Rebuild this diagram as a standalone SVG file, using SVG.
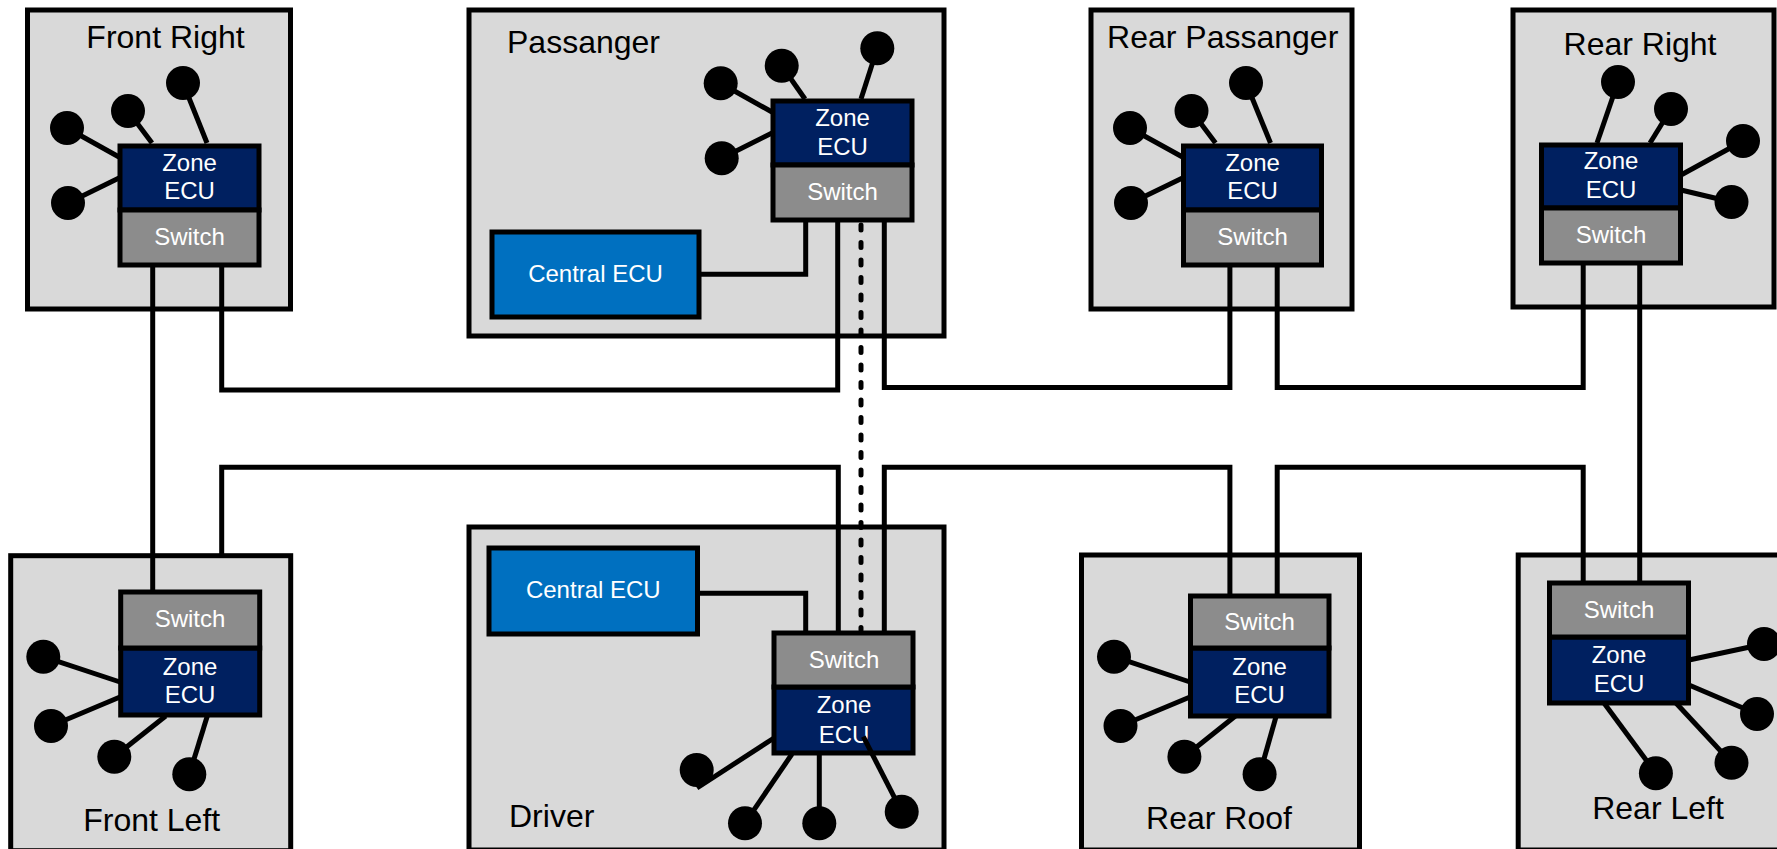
<svg xmlns="http://www.w3.org/2000/svg" width="1777" height="849" viewBox="0 0 1777 849">
  <style>
    .zone { fill: #D9D9D9; stroke: #000; stroke-width: 5; stroke-linejoin: miter; }
    .ecu { fill: #002060; stroke: #000; stroke-width: 5; }
    .sw { fill: #8C8C8C; stroke: #000; stroke-width: 5; }
    .central { fill: #0070C0; stroke: #000; stroke-width: 5; }
    .title { font-family: "Liberation Sans", Arial, sans-serif; font-size: 32px; fill: #000; }
    .lbl { font-family: "Liberation Sans", Arial, sans-serif; font-size: 24px; fill: #fff; text-anchor: middle; }
    .spoke { stroke: #000; stroke-width: 5; fill: none; }
    .dev { fill: #000; }
    .wire { stroke: #000; stroke-width: 5; fill: none; }
    .backbone { stroke: #000; stroke-width: 5; fill: none; stroke-dasharray: 5 12.5; stroke-linecap: round; }
  </style>

  <!-- Front Right zone -->
  <g id="front-right">
    <rect class="zone" x="27.5" y="10" width="263" height="299"/>
    <text class="title" x="165.5" y="48" text-anchor="middle">Front Right</text>
    <g class="spoke">
      <line x1="67" y1="128" x2="119" y2="157"/>
      <line x1="68" y1="203" x2="119" y2="178"/>
      <line x1="128" y1="111" x2="152" y2="143"/>
      <line x1="183" y1="83" x2="207" y2="143"/>
    </g>
    <g class="dev">
      <circle cx="67" cy="128" r="17"/>
      <circle cx="68" cy="203" r="17"/>
      <circle cx="128" cy="111" r="17"/>
      <circle cx="183" cy="83" r="17"/>
    </g>
    <rect class="ecu" x="120" y="146" width="139" height="64"/>
    <rect class="sw" x="120" y="210" width="139" height="55"/>
    <text class="lbl" x="189.5" y="171">Zone</text>
    <text class="lbl" x="189.5" y="199">ECU</text>
    <text class="lbl" x="189.5" y="245">Switch</text>
  </g>

  <!-- Passanger zone -->
  <g id="passanger">
    <rect class="zone" x="469" y="10" width="475" height="326"/>
    <text class="title" x="507" y="53">Passanger</text>
    <g class="spoke">
      <line x1="720.7" y1="83.3" x2="772" y2="112"/>
      <line x1="721.7" y1="158.3" x2="772" y2="133"/>
      <line x1="781.7" y1="65.7" x2="805" y2="99"/>
      <line x1="877.3" y1="48.3" x2="861" y2="99"/>
    </g>
    <g class="dev">
      <circle cx="720.7" cy="83.3" r="17"/>
      <circle cx="721.7" cy="158.3" r="17"/>
      <circle cx="781.7" cy="65.7" r="17"/>
      <circle cx="877.3" cy="48.3" r="17"/>
    </g>
    <rect class="ecu" x="773" y="101" width="139" height="64"/>
    <rect class="sw" x="773" y="165" width="139" height="55"/>
    <text class="lbl" x="842.5" y="126">Zone</text>
    <text class="lbl" x="842.5" y="155">ECU</text>
    <text class="lbl" x="842.5" y="200">Switch</text>
  </g>
  <g id="central-ecu-passanger">
    <rect class="central" x="492" y="232" width="207" height="85"/>
    <text class="lbl" x="595.5" y="282">Central ECU</text>
  </g>

  <!-- Rear Passanger zone -->
  <g id="rear-passanger">
    <rect class="zone" x="1091" y="10" width="261" height="299"/>
    <text class="title" x="1222.7" y="48" text-anchor="middle">Rear Passanger</text>
    <g class="spoke">
      <line x1="1130" y1="128" x2="1182.5" y2="157"/>
      <line x1="1131" y1="203" x2="1182.5" y2="178"/>
      <line x1="1191.5" y1="111" x2="1215.5" y2="143"/>
      <line x1="1246" y1="83" x2="1270.5" y2="143"/>
    </g>
    <g class="dev">
      <circle cx="1130" cy="128" r="17"/>
      <circle cx="1131" cy="203" r="17"/>
      <circle cx="1191.5" cy="111" r="17"/>
      <circle cx="1246" cy="83" r="17"/>
    </g>
    <rect class="ecu" x="1183.5" y="146" width="138" height="64"/>
    <rect class="sw" x="1183.5" y="210" width="138" height="55"/>
    <text class="lbl" x="1252.5" y="171">Zone</text>
    <text class="lbl" x="1252.5" y="199">ECU</text>
    <text class="lbl" x="1252.5" y="245">Switch</text>
  </g>

  <!-- Rear Right zone -->
  <g id="rear-right">
    <rect class="zone" x="1513" y="10" width="261" height="297"/>
    <text class="title" x="1640" y="55" text-anchor="middle">Rear Right</text>
    <g class="spoke">
      <line x1="1618" y1="82" x2="1597" y2="143"/>
      <line x1="1671" y1="109" x2="1650" y2="143"/>
      <line x1="1743" y1="141" x2="1681" y2="175"/>
      <line x1="1731.5" y1="202" x2="1681" y2="190"/>
    </g>
    <g class="dev">
      <circle cx="1618" cy="82" r="17"/>
      <circle cx="1671" cy="109" r="17"/>
      <circle cx="1743" cy="141" r="17"/>
      <circle cx="1731.5" cy="202" r="17"/>
    </g>
    <rect class="ecu" x="1541.5" y="145" width="139" height="63"/>
    <rect class="sw" x="1541.5" y="208" width="139" height="55"/>
    <text class="lbl" x="1611" y="169">Zone</text>
    <text class="lbl" x="1611" y="198">ECU</text>
    <text class="lbl" x="1611" y="243">Switch</text>
  </g>

  <!-- Front Left zone -->
  <g id="front-left">
    <rect class="zone" x="10.7" y="555.7" width="280" height="295"/>
    <text class="title" x="151.7" y="831" text-anchor="middle">Front Left</text>
    <g class="spoke">
      <line x1="43.3" y1="656.7" x2="120" y2="682"/>
      <line x1="51" y1="726" x2="120" y2="697"/>
      <line x1="114.3" y1="756.7" x2="165.7" y2="716"/>
      <line x1="189.3" y1="774.3" x2="207.3" y2="716"/>
    </g>
    <g class="dev">
      <circle cx="43.3" cy="656.7" r="17"/>
      <circle cx="51" cy="726" r="17"/>
      <circle cx="114.3" cy="756.7" r="17"/>
      <circle cx="189.3" cy="774.3" r="17"/>
    </g>
    <rect class="ecu" x="120.7" y="648" width="139" height="67"/>
    <rect class="sw" x="120.7" y="592" width="139" height="56"/>
    <text class="lbl" x="190" y="627">Switch</text>
    <text class="lbl" x="190" y="675">Zone</text>
    <text class="lbl" x="190" y="703">ECU</text>
  </g>

  <!-- Driver zone -->
  <g id="driver">
    <rect class="zone" x="469" y="527" width="475" height="323"/>
    <text class="title" x="509" y="827">Driver</text>
    <g class="spoke">
      <line x1="697" y1="788" x2="774" y2="738"/>
      <line x1="745" y1="823" x2="792" y2="754"/>
      <line x1="819.3" y1="823" x2="819.3" y2="754"/>
    </g>
    <g class="dev">
      <circle cx="696.7" cy="770" r="17"/>
      <circle cx="745" cy="823.3" r="17"/>
      <circle cx="819.3" cy="823.3" r="17"/>
      <circle cx="901.7" cy="811.7" r="17"/>
    </g>
    <rect class="ecu" x="774" y="687" width="139" height="66"/>
    <rect class="sw" x="774" y="633" width="139" height="54"/>
    <text class="lbl" x="844" y="668">Switch</text>
    <text class="lbl" x="844" y="713">Zone</text>
    <text class="lbl" x="844" y="743">ECU</text>
    <line class="spoke" x1="901.7" y1="811.7" x2="863.3" y2="736.7"/>
  </g>
  <g id="central-ecu-driver">
    <rect class="central" x="489" y="548" width="208.5" height="86"/>
    <text class="lbl" x="593.3" y="597.5">Central ECU</text>
  </g>

  <!-- Rear Roof zone -->
  <g id="rear-roof">
    <rect class="zone" x="1081.5" y="555" width="278" height="295"/>
    <text class="title" x="1219" y="829" text-anchor="middle">Rear Roof</text>
    <g class="spoke">
      <line x1="1114" y1="656.7" x2="1190" y2="682"/>
      <line x1="1120.5" y1="726" x2="1190" y2="697"/>
      <line x1="1184.4" y1="756.7" x2="1235.4" y2="716"/>
      <line x1="1259.6" y1="774.3" x2="1276.2" y2="716"/>
    </g>
    <g class="dev">
      <circle cx="1114" cy="656.7" r="17"/>
      <circle cx="1120.5" cy="726" r="17"/>
      <circle cx="1184.4" cy="756.7" r="17"/>
      <circle cx="1259.6" cy="774.3" r="17"/>
    </g>
    <rect class="ecu" x="1190.5" y="648" width="138.5" height="68"/>
    <rect class="sw" x="1190.5" y="596" width="138.5" height="52"/>
    <text class="lbl" x="1259.6" y="630">Switch</text>
    <text class="lbl" x="1259.6" y="675">Zone</text>
    <text class="lbl" x="1259.6" y="703">ECU</text>
  </g>

  <!-- Rear Left zone -->
  <g id="rear-left">
    <rect class="zone" x="1518.2" y="555" width="300" height="295"/>
    <text class="title" x="1658" y="819" text-anchor="middle">Rear Left</text>
    <g class="spoke">
      <line x1="1764" y1="644" x2="1689" y2="660"/>
      <line x1="1757" y1="714" x2="1689" y2="685"/>
      <line x1="1731.5" y1="762.7" x2="1676" y2="703"/>
      <line x1="1655.9" y1="773.3" x2="1604" y2="703"/>
    </g>
    <g class="dev">
      <circle cx="1764" cy="644" r="17"/>
      <circle cx="1757" cy="714" r="17"/>
      <circle cx="1731.5" cy="762.7" r="17"/>
      <circle cx="1655.9" cy="773.3" r="17"/>
    </g>
    <rect class="ecu" x="1549.5" y="637" width="139" height="66"/>
    <rect class="sw" x="1549.5" y="583" width="139" height="54"/>
    <text class="lbl" x="1619" y="618">Switch</text>
    <text class="lbl" x="1619" y="663">Zone</text>
    <text class="lbl" x="1619" y="692">ECU</text>
  </g>

  <!-- Ethernet links between switches -->
  <g id="connectors">
    <path class="wire" d="M152.7,265 V592"/>
    <path class="wire" d="M221.7,265 V390 H837.7 V220"/>
    <path class="wire" d="M884.3,220 V387.5 H1229.9 V265"/>
    <path class="wire" d="M1277.2,265 V387.5 H1583.2 V263"/>
    <path class="wire" d="M1639.7,263 V583"/>
    <path class="wire" d="M221.7,555 V467.3 H838.3 V633"/>
    <path class="wire" d="M884.3,633 V467.3 H1229.9 V596"/>
    <path class="wire" d="M1277.2,596 V467.3 H1583.2 V583"/>
    <path class="wire" d="M699,274.3 H805.7 V220"/>
    <path class="wire" d="M697.5,593.3 H805.7 V633"/>
    <path class="backbone" d="M861,225 V630"/>
  </g>
</svg>
